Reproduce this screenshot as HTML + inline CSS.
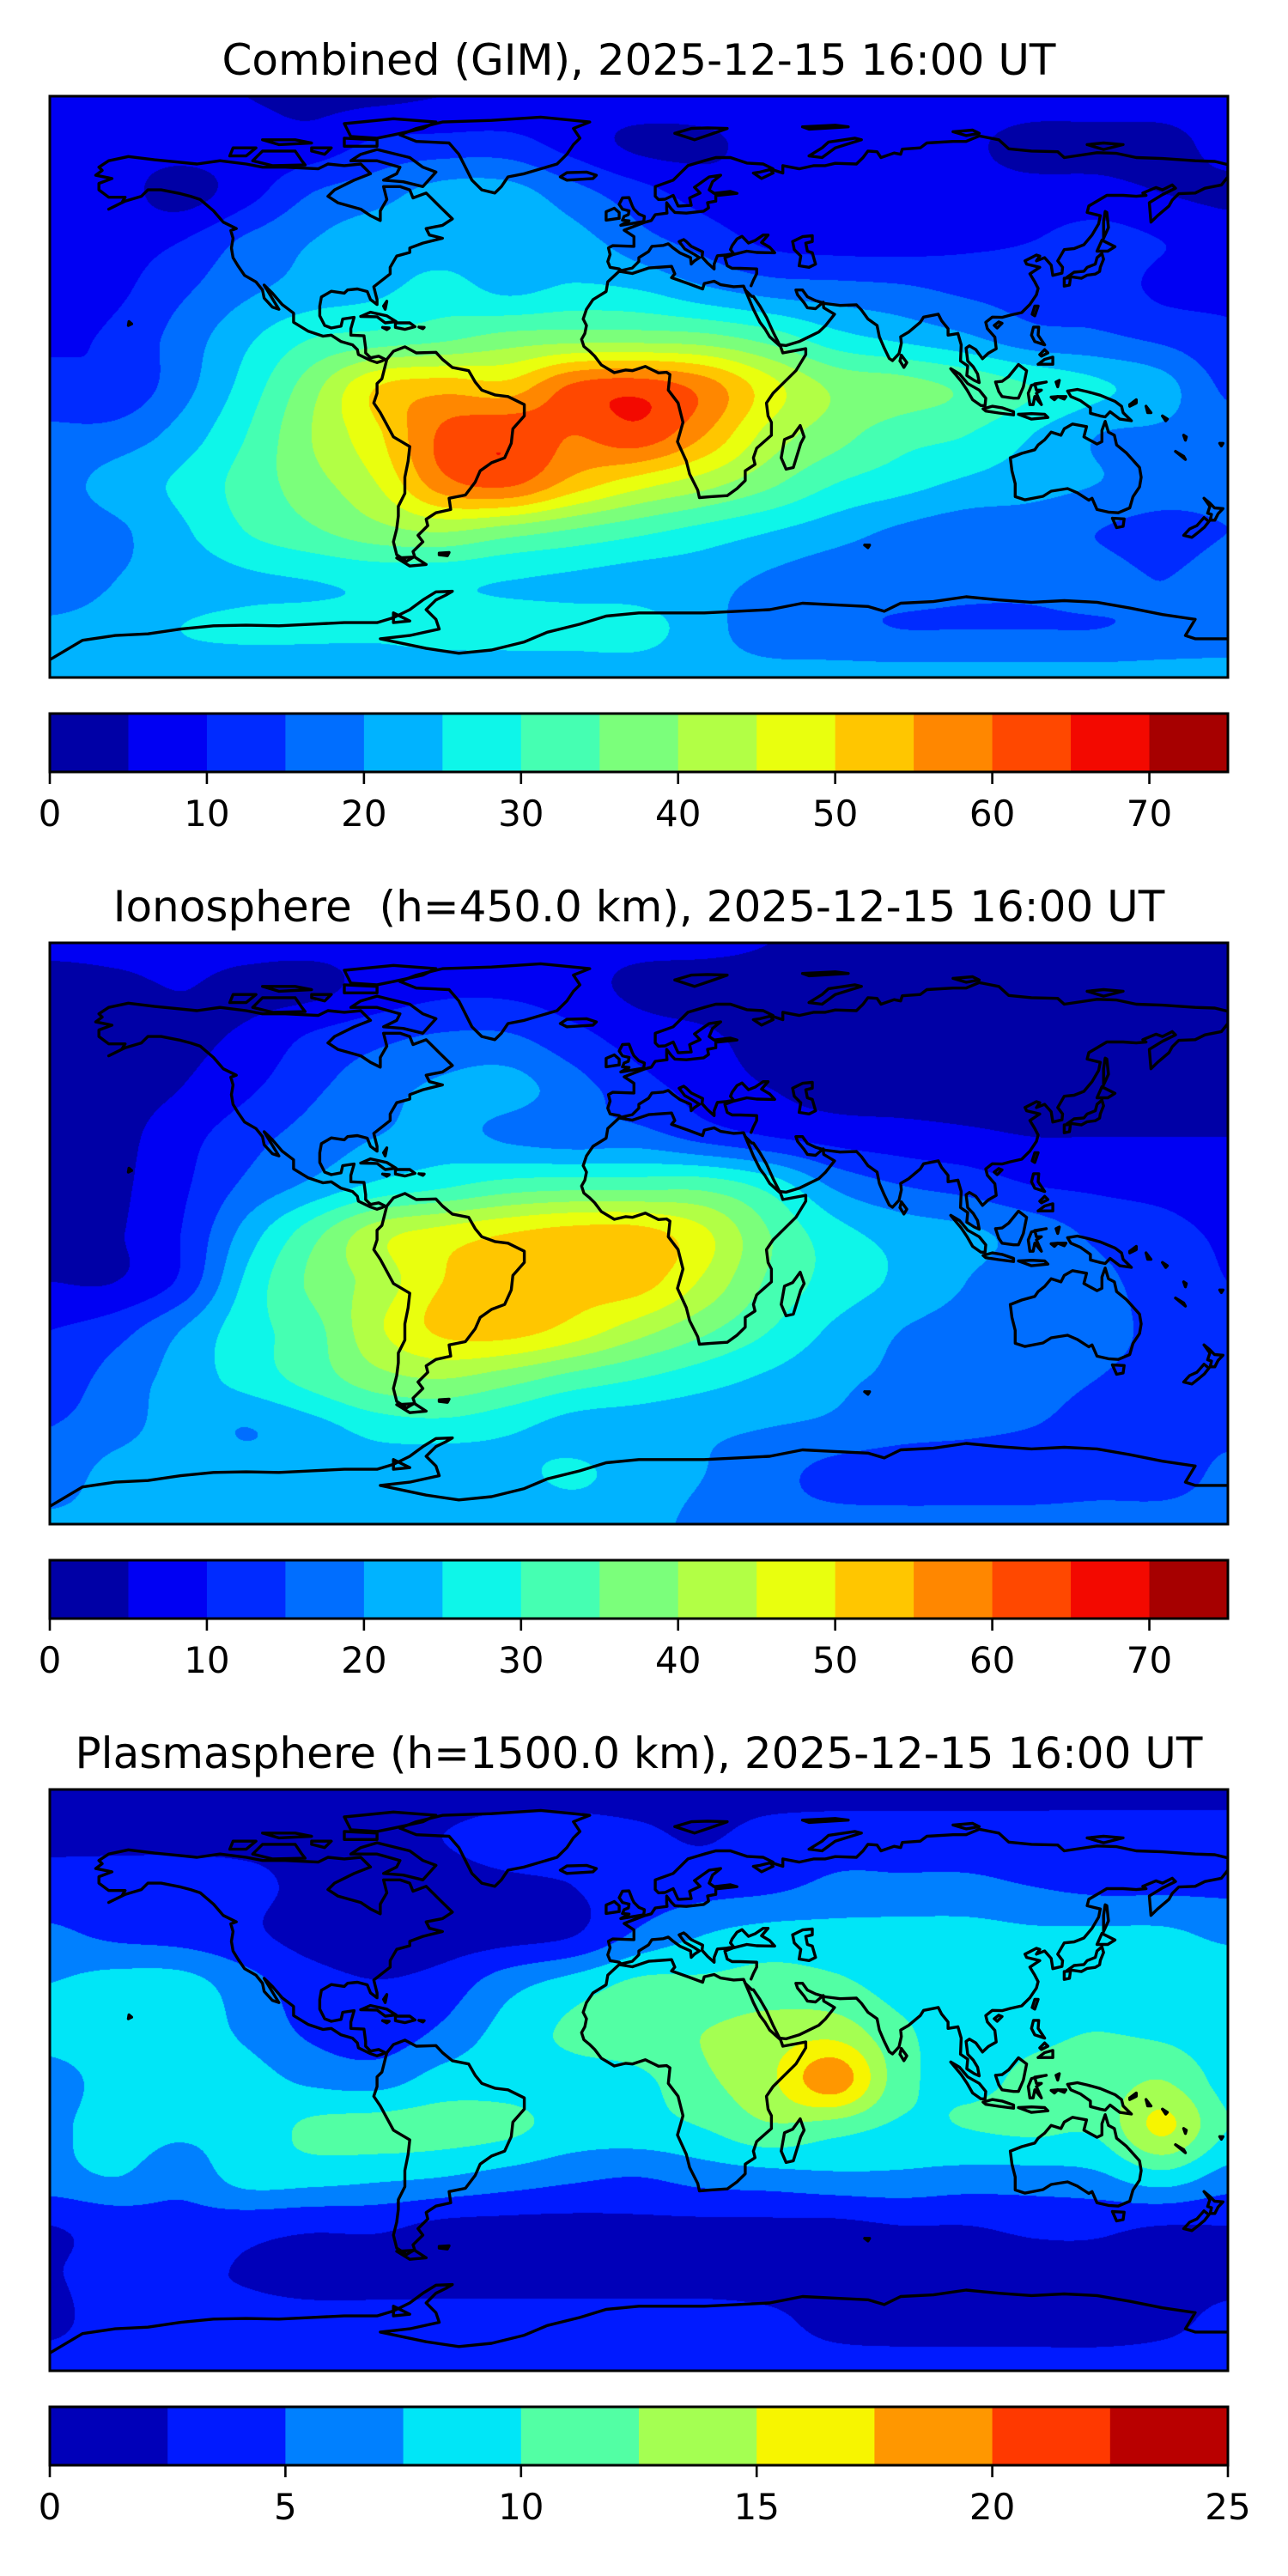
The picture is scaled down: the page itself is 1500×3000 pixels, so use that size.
<!DOCTYPE html>
<html><head><meta charset="utf-8"><title>GIM maps</title>
<style>
html,body{margin:0;padding:0;background:#fff;}
#page{position:relative;width:1500px;height:3000px;overflow:hidden;background:#fff;font-family:"DejaVu Sans","Liberation Sans",sans-serif;}
canvas{position:absolute;left:58px;}
#ov{position:absolute;left:0;top:0;}
</style></head>
<body>
<div id="page">
<canvas id="c0" width="1372" height="677" style="top:112px"></canvas>
<canvas id="c1" width="1372" height="677" style="top:1098px"></canvas>
<canvas id="c2" width="1372" height="677" style="top:2084px"></canvas>
<svg id="ov" width="1500" height="3000" xmlns="http://www.w3.org/2000/svg"></svg>
</div>
<script>
// grid: lon -180..180 step 20 (19 cols), lat 90..-90 step 15 (13 rows)
const combinedGrid = [
[8,8,6,5,4,4,5,6,7,8,8,8,8,8,8,8,8,8,8],
[7,7,7,7,7,11,12,12,8,4,4,7,7,7,6,3,3,3,7],
[7,7,3,8,15,18,22,22,17,12,8,7,7,7,7,7,7,5,4],
[8,8,10,16,20,23,23,23,22,17,13,9,8,8,9,10,12,10,8],
[8,9,14,19,22,24,27,24,26,25,21,18,17,16,14,13,13,9,9],
[9,11,17,24,30,32,34,37,38,38,37,33,27,24,21,17,16,14,11],
[12,11,18,27,38,50,53,52,61,63,58,47,39,37,34,30,26,22,14],
[16,17,22,30,40,49,61,64,60,63,55,43,37,32,30,25,20,19,17],
[18,22,26,32,38,45,58,61,53,47,42,36,30,27,24,22,20,18,17],
[17,19,24,30,34,38,40,37,34,31,28,25,22,19,17,17,15,13,15],
[17,20,22,24,25,26,26,25,24,23,22,19,17,17,16,16,17,15,18],
[21,22,25,26,26,26,27,27,27,27,22,17,16,15,15,15,15,16,17],
[22,22,22,22,22,22,22,22,22,22,22,22,22,22,22,22,22,22,22]
];
const ionoGrid = [
[6,6,6,6,6,6,6,6,6,6,6,5,4,4,3,3,3,3,3],
[3,4,5,4,4,7,9,9,7,4,3,3,3,3,3,3,3,3,3],
[2.5,3,4,6,11,14,16,16,12,8,6,3,2,3,3,3,3,3,3],
[2.5,3,5,9,14,18,21,22,17,12,8,5,3,3,3,3,3,3,3],
[2.5,3.5,8,13,17,20,22,19,17,17,13,10,8,7,6,5,5,5,5],
[3,4,9,16,21,26,29,32,33,33,33,28,19,15,13,10,9,8,6],
[3.5,4.5,10,22,33,43,47,50,52,52,46,35,27,23,21,18,14,12,9],
[5,5,11,26,36,42,50,53,52,52,44,34,28,24,20,17,16,13,10],
[10,13,20,28,33,44,51,52,48,42,36,30,24,20,18,17,16,14,11],
[12,17,22,27,32,38,40,37,33,30,27,24,21,19,17,16,15,14,13],
[15,18,22,20,23,27,28,26,23,22,21,20,19,17,16,15,14,14,14],
[17,22,23,22,22,22,21,23,26,22,20,17,13,12,12,12,13,13,16],
[21,21,21,21,21,21,21,21,21,21,19,17,17,17,17,17,17,17,17]
];
const plasmaGrid = [
[1.5,1.5,1.5,1.5,1.5,1.5,1.5,1.5,1.5,1.5,1.5,1.5,1.5,1.5,1.5,1.5,1.5,1.5,1.5],
[2,2,2,2,2,2,2.5,3.5,3.5,3,2.3,3.5,4,4,4,4,4,4,4],
[3.5,3.5,3.5,3,2,1.5,1.5,2,2.5,3.5,4,4.5,5.5,5.5,5.5,5,4.5,4.5,4.5],
[5.5,4.5,4,3,1.6,1.2,1.3,1.6,2.4,5.5,7.5,8.5,8.5,8.5,8.5,8,8,8,7],
[7.5,8.5,8.5,6,3.5,2.6,3.5,6.5,8.5,10.5,10.5,11,10.5,9,9,9,9,9,9],
[8.5,9,9,7,4.5,3.5,5.5,8.5,10.5,11.5,12.5,13.5,14,10.5,9,9.5,10,9.5,8.5],
[6.5,8.5,9,8.5,7,6.5,8.5,9,9,9.5,12,14.5,19,11,9.5,10.5,11,12.5,9],
[7,8.5,8,8.5,10.5,11,11,10.5,9,9,10,12,11,9.5,10,10.5,10.5,15.5,10],
[6.5,7.5,6,8.5,8.5,8,7.5,6.5,5.5,5,6,6.5,7,7,6.5,6.5,7,9,6.5],
[2.5,3.5,4,3.5,3,3,2,1.8,1.8,2,2,2,2,2.5,2.5,3,3,2.5,2.5],
[2.3,3.5,3,2.3,1.5,1.5,1.5,1.5,1.5,1.5,1.5,1.5,1.5,1.5,1.5,1.8,2,2,2],
[2,3.5,3.5,3.5,3.5,3.5,3.5,3.5,3.5,3.5,3.5,3,1.8,1.5,1.5,1.5,1.5,2,3],
[3.5,3.5,3.5,3.5,3.5,3.5,3.5,3.5,3.5,3.5,3.5,3.5,3.5,3.5,3.5,3.5,3.5,3.5,3.5]
];
const tecColors = ["#0000a6","#0000f3","#002bff","#006eff","#00b3ff","#0ef6e9","#45ffb2","#7bff7b","#b2ff45","#e9ff0e","#ffc600","#ff8700","#ff4800","#f30900","#a60000"];
const plasmaColors = ["#0000b9","#001aff","#0080ff","#00e6f7","#52ffa4","#a4ff52","#f7f500","#ff9700","#ff3900","#b90000"];
const tecTicks = [0,10,20,30,40,50,60,70];
const plasmaTicks = [0,5,10,15,20,25];
const titles = ["Combined (GIM), 2025-12-15 16:00 UT","Ionosphere\u00a0\u00a0(h=450.0 km), 2025-12-15 16:00 UT","Plasmasphere (h=1500.0 km), 2025-12-15 16:00 UT"];

const coasts = [
[[-165,68],[-162,70],[-156,71.3],[-148,70.3],[-141,69.6],[-135,69],[-128,70],[-120,69],[-115,68],[-108,68],[-98,67.5],[-95,69],[-90,68.5],[-85,69],[-82,66],[-87,64],[-93,61],[-95,59],[-92,57],[-85,55],[-82,53],[-79,51.5],[-79,54.5],[-77,58],[-78,62],[-73,62],[-70,61],[-69,58.5],[-65,60],[-61,56],[-57,52],[-60,50],[-65,49],[-64,47],[-60,46],[-66,44.5],[-70,43],[-70,41.6],[-74,40.5],[-76,37],[-76,35],[-81,31],[-80,27],[-80,25.5],[-82,27],[-83,29.5],[-86,30.3],[-89,30],[-90,29],[-94,29.6],[-97,27.8],[-97.5,25],[-97.5,22],[-96,19],[-94,18.2],[-91,18.8],[-90.5,21],[-87,21.5],[-88,18],[-88,16],[-84,15.8],[-83.5,12],[-83.5,10.5],[-82,9],[-79.5,9.5],[-77.5,8.5],[-78.5,8],[-80,7.5],[-82,8.2],[-85.7,10],[-86,11.5],[-87.5,13],[-91,14],[-94,16],[-96.5,15.7],[-101,17.2],[-105.5,20],[-105.5,22.8],[-109,25.5],[-112,29],[-114.5,31.5],[-113,29],[-110,24],[-112,24.7],[-114.5,27.5],[-115,30],[-117,32.5],[-120.5,34.5],[-122.5,37.5],[-124,40],[-124.5,43],[-124,46],[-124.7,48.4],[-123,49],[-127,51],[-130,54.5],[-134,58],[-137,59],[-140,59.8],[-146,61],[-150,61],[-152,59],[-157,57.5],[-162,55],[-158,57],[-157,58.7],[-162,58.7],[-165,61],[-165,63],[-161,64.5],[-166,65.5],[-164,67],[-165,68]],
[[-73,78],[-68,76],[-58,75.5],[-55,72],[-53,68],[-51,64],[-48,61],[-44,60],[-42,62],[-40,65],[-35,66],[-25,69],[-22,72],[-20,75],[-18,77],[-20,80],[-15,82],[-30,83.5],[-45,82.5],[-60,82],[-68,80],[-73,78]],
[[-62,66.5],[-66,62],[-72,63.5],[-78,64],[-74,66],[-73,68],[-80,70],[-88,70],[-85,72],[-80,73.5],[-70,71],[-66,68],[-62,66.5]],
[[-118,70],[-112,68.5],[-102,68.7],[-103,70],[-105,73],[-115,73],[-118,70]],
[[-125,71.5],[-120,71.5],[-117,74],[-124,74],[-125,71.5]],
[[-80,77],[-75,78],[-66,80],[-62,82],[-75,83],[-90,81.5],[-88,77.5],[-80,77]],
[[-80,74.5],[-90,74.5],[-90,77],[-80,76.5],[-80,74.5]],
[[-100,73],[-96,72],[-94,74],[-100,74],[-100,73]],
[[-110,75],[-100,75.5],[-105,76.5],[-115,76.5],[-110,75]],
[[-22,64],[-14,64.5],[-13,65.5],[-16,66.5],[-22,66.3],[-24,65],[-22,64]],
[[-77,8.5],[-75,11],[-71.5,12.4],[-68,10.5],[-62,10.7],[-60,8.5],[-57,6],[-52,5],[-50,1.5],[-48,-1],[-44,-2.5],[-40,-3],[-35,-5.5],[-35,-9],[-38.5,-13],[-39,-17.5],[-41,-22],[-45,-23.5],[-48.5,-26],[-50,-29.5],[-53,-33.5],[-58,-34.5],[-57.5,-38],[-62,-39],[-65,-41],[-64.5,-43],[-67.5,-46],[-66,-48],[-69,-51],[-68.5,-52.5],[-71,-54],[-74,-52],[-75,-48],[-74,-44],[-73.5,-40],[-73.5,-37],[-71.5,-33],[-71.5,-28],[-70.5,-23],[-70,-18.5],[-75,-15.5],[-79,-8],[-81,-5],[-80,-2],[-80,1],[-78.5,2.5],[-77.5,6.5],[-77,8.5]],
[[-68.5,-52.7],[-65,-55],[-70,-55.5],[-74,-53],[-68.5,-52.7]],
[[-61,-51.5],[-58,-51.3],[-58.5,-52.3],[-61,-52],[-61,-51.5]],
[[-85,21.8],[-82,23.1],[-77,22],[-74.2,20.2],[-77.5,19.8],[-80,21.7],[-85,21.8]],
[[-74.4,19.8],[-70,19.8],[-68.4,18.6],[-71.5,17.8],[-74.4,18.4],[-74.4,19.8]],
[[-78.3,18.4],[-76.3,18.2],[-77,17.7],[-78.3,18.4]],
[[-67.2,18.5],[-65.6,18.4],[-66,18],[-67.2,18.5]],
[[-78,25],[-77,26.5],[-77.5,24],[-78,25]],
[[-17,21],[-16,24],[-14,27],[-10,29.5],[-9.5,32.5],[-6,35.8],[-2,35.1],[3,36.8],[10,37.3],[11,35],[10,33.8],[15,32],[19.5,30.3],[20,32],[23,32.7],[25,31.6],[29,31],[32,31.2],[32.5,30],[35,24],[37,20],[38.5,18],[40,15.5],[43.3,12.5],[44,10.5],[51,11.8],[51,10],[48,5],[44,1],[41,-2],[39,-5],[39.5,-9],[40.5,-11],[40.5,-15],[36,-19],[35,-22],[35.5,-24],[32.5,-26],[32.5,-29],[30,-31.5],[27,-33.7],[22,-34],[18.5,-34.3],[18,-32],[15.5,-27],[14.5,-23],[11.8,-17],[13.5,-11],[12,-5],[9,-1],[9.5,3.8],[8.5,4.5],[6,4.3],[2,6.3],[-2,5],[-4,5.2],[-7.5,4.4],[-11.5,6.8],[-13.5,9.5],[-15,11],[-16.8,12.5],[-17.5,14.7],[-16.5,16.5],[-16,19],[-17,21]],
[[49.3,-12],[50.5,-15.5],[49.5,-17.5],[47.2,-25],[45,-25.5],[43.5,-22],[44.5,-16.3],[47,-15.2],[49.3,-12]],
[[32.5,30],[34.5,28],[35,28],[37,25],[39,21.5],[41,17],[43,13],[45,12.8],[49,14],[52,15.5],[55,17],[57,18.9],[59.8,22.5],[56.5,24.5],[56.3,26.2],[54,24.2],[51.5,24.5],[50.5,26],[48.5,28.5],[48,30],[50,30],[51.5,27.9],[54,26.7],[57,25.8],[61.5,25.2],[66.5,25.4],[68,23.8],[70,21],[72.8,19],[73.5,15.5],[75,12],[76.5,8.8],[77.5,8.1],[79.5,10.3],[80.2,13.5],[80,15.5],[82.5,17],[86,20],[87,21.6],[89,22],[91.5,22.5],[92.5,20.5],[94.5,18],[94.5,16],[97.5,16.5],[98.5,13],[98.3,8],[100.5,6.5],[100.2,3.5],[102.5,2],[104,1.3],[103.5,4],[102.2,6.2],[100.5,8],[100,12],[101,12.7],[103,11.5],[105,8.7],[106.8,10.4],[109.2,11.8],[108.8,15.4],[106.5,18],[106,20],[108,21.6],[111,21.5],[113.5,22.2],[117,23],[119.5,25.5],[121.5,28.5],[122,30.5],[121,32.5],[119.5,35],[122.5,37],[118.5,38],[118,39],[121.5,40.8],[122.5,40.5],[121.5,39],[124,40],[126,37.7],[126.5,34.5],[129.3,35.2],[129.5,37],[128,39],[130,42.5],[133,42.8],[136,44],[138.5,47],[140.5,50.5],[141,53],[137,54],[137.5,56],[140.5,57.8],[143,59.3],[148,59.3],[152,59],[155,59.3],[154,60],[158,61.7],[160,61],[163,62.5],[164,61.5],[160,59.5],[156,57],[156.5,51],[158.5,53],[162,56],[163,57.8],[165,59.8],[170,60],[173,61.5],[178,62.5],[180,65],[180,68.8],[176,69.8],[170,70],[160,70.7],[152,71],[146,72.3],[140,72.5],[130,71],[128,72.8],[120,73],[113,73.7],[110,76.5],[104,77.7],[100,76],[96,76],[88,75.5],[86,74],[80.5,73.6],[80,72],[78,72.4],[74,71],[72.8,72.8],[70,73],[68.5,71],[66.5,69],[60,69.2],[57,68.5],[53.5,68.5],[49,67.5],[44,68.5],[44,66.2],[40,67.5],[41,66.2],[37.5,64.5],[35,66.2],[37,66.5],[41,67.5],[38,69],[33,69.3],[28,71],[23.5,71],[20,70],[15,68.5],[12.5,66],[10.5,64],[5,62],[5,59],[6,58],[8,58.1],[10.5,59.3],[12,56],[12.6,56],[16,56.2],[15.5,58.5],[18.7,60],[17,61.8],[21.5,65],[25,65.5],[22.5,63.5],[21.5,61],[23,59.9],[28,60.5],[30,59.9],[23.5,59.2],[23.5,57.5],[21,57],[21.3,55.4],[19.8,54.4],[14.5,53.8],[11,54],[10,55],[8.5,57],[8.5,55],[8.6,53.8],[5,53.3],[3.8,51.5],[1.6,50.9],[-1.5,49.7],[-4.5,48.5],[-1.5,46.5],[-1.5,43.5],[-8,43.7],[-9.3,43],[-8.8,41],[-9.5,38.8],[-8.8,37],[-6,36.5],[-5.4,36],[-2,36.8],[0,38.8],[0,40],[3,41.9],[4,43.5],[7.5,43.8],[9,44.3],[10.5,43],[12.5,41.5],[15.8,40],[16,38],[17,39],[18.5,40],[17,41],[14,42.7],[12.3,45],[13.7,45.6],[14.5,45],[16,43.5],[19.5,41.8],[19.3,40.2],[21,38.3],[23,36.5],[23,38],[24,40.6],[26.5,40.8],[27.5,41],[29,41.2],[28,42.5],[28.5,43.7],[30,45.8],[31.5,46.6],[33.5,44.5],[35.5,45.3],[38,47],[39.5,47],[37.5,44.7],[40,43.2],[41.5,41.5],[36,41.6],[33,42],[29,41],[26.3,40],[27,37.5],[28.5,36.7],[31,36.7],[36,36.5],[36,35],[35,33],[34.3,31.3]],
[[47,45],[50,46.5],[53,46.8],[53,45],[51,44.5],[51.5,42],[53,41.5],[54,38],[52,37],[49,37.5],[49.5,40.5],[47.5,42.5],[47,45]],
[[-5.5,50],[1.5,51.2],[1.7,52.8],[0,53.5],[-1.5,55],[-2,56],[-3,58.6],[-5,58.5],[-6,56.5],[-5,55],[-3,54.5],[-3.2,53.3],[-4.5,52.8],[-5,51.6],[-3,51.4],[-5.5,50]],
[[-6,52.2],[-6,54],[-7.5,55.3],[-10,54.2],[-10,51.6],[-6,52.2]],
[[130.9,34],[133,35.5],[136,35.8],[137,37],[139.5,38],[140,40],[141.5,41.3],[142,39.5],[141,37],[140.8,35.7],[139.5,34.9],[137,34.6],[135.2,33.6],[132.5,34],[130.9,34]],
[[140,42],[141.5,45.4],[145.5,43.4],[143.3,42],[140,42]],
[[130,31.2],[131.6,31.5],[131.9,33.8],[130,33.6],[130,31.2]],
[[142,46],[143.5,49.3],[143,54],[142.5,54.3],[142,51],[142,46]],
[[120.2,22.5],[121,25],[122,25],[121,22],[120.2,22.5]],
[[108.6,19],[110,20.1],[111,19.7],[109.5,18.2],[108.6,19]],
[[79.8,8],[80.2,9.8],[81.9,7.5],[81,6],[79.8,8]],
[[120,16],[120.6,18.5],[122.2,18.5],[122,16],[124,13],[121,14],[120,16]],
[[122,7],[126.5,7],[126.5,9.2],[124,8.5],[122,7]],
[[122.5,10],[124,11.5],[125,10.5],[123,9.5],[122.5,10]],
[[109,1.5],[111,1.7],[113,3.2],[116,6.9],[118.5,5],[118,2.5],[117.5,0],[116,-3.5],[114.5,-3.5],[111,-3],[110,-1.5],[109,1.5]],
[[95.3,5.6],[98,4],[100.5,1],[104,-1],[106,-3.5],[105.8,-5.8],[104.5,-5.8],[102,-4],[100.3,-1],[98.5,1.7],[95.3,5.6]],
[[105.2,-6.8],[108,-6],[111,-6.5],[114.5,-7.7],[114.5,-8.7],[110,-8.1],[106,-7.5],[105.2,-6.8]],
[[116,-8.5],[120,-8.3],[124,-8.5],[125,-9.5],[120,-10],[116,-8.5]],
[[119.5,-5.5],[119,-2],[120,0.5],[124.5,1.5],[121,0.9],[121.5,-1],[123,-1],[121.5,-2],[123,-5.5],[121,-3],[120.5,-5.5],[119.5,-5.5]],
[[127.5,1.5],[128.5,2],[128,0],[127.5,1.5]],
[[126,-3.2],[128,-3],[127,-4],[126,-3.2]],
[[128,-3],[130.5,-3],[130,-3.8],[128,-3]],
[[131,-1.3],[134,-0.8],[137,-1.5],[141,-2.6],[145.5,-4.5],[147.5,-6],[148,-8],[150.5,-10.5],[147,-10],[144,-7.7],[142.5,-9.3],[141,-9],[138,-8.2],[138,-6.5],[135,-4.3],[132,-3],[131,-1.3]],
[[150,-5.5],[152,-4],[152,-5],[150,-6],[150,-5.5]],
[[155,-6],[156.5,-8],[155.5,-8],[155,-6]],
[[160,-9],[161.5,-10],[161,-10.5],[160,-9]],
[[166.5,-15],[167.3,-15.5],[167,-16.5],[166.5,-15]],
[[164,-20],[166.5,-21.5],[167,-22.5],[164,-20]],
[[177.5,-17.5],[178.5,-17.5],[178,-18.3],[177.5,-17.5]],
[[113.5,-22],[114,-26],[115,-30],[115,-34],[118,-35],[123.5,-33.9],[126,-32.3],[131,-31.5],[134,-32.8],[137.5,-35.1],[138.5,-34.5],[140,-38],[143.5,-38.8],[146.5,-39],[150,-37.5],[151,-34],[153,-31],[153.5,-28],[153,-25],[150.8,-22.5],[149,-20.5],[146,-18],[145.3,-15],[143.5,-14],[142.5,-10.7],[141.5,-13.5],[141.5,-17],[140,-17.7],[136,-15.5],[136.8,-12.3],[132.5,-11.5],[130,-13],[129,-15],[126,-14],[124,-16.4],[122,-18],[121,-19.5],[117,-20.6],[114,-21.8],[113.5,-22]],
[[144.7,-40.7],[148.3,-40.9],[148,-43.2],[146,-43.6],[144.7,-40.7]],
[[172.7,-34.5],[174.5,-36],[175.9,-37.5],[178.5,-37.7],[177,-39.3],[176,-41.3],[174.6,-41.3],[175,-39.5],[173.8,-39.1],[174.5,-37],[172.7,-34.5]],
[[172.7,-40.5],[174.2,-41.7],[172.8,-43.5],[171,-45],[169,-46.6],[166.5,-46],[168.3,-44],[170.5,-43],[172.7,-40.5]],
[[11,78.5],[16,80],[21,80.2],[27,80],[22,78.2],[17,76.5],[11,78.5]],
[[52,71.5],[56,74],[58,75.8],[66,77],[68,76.5],[60,74],[56,71],[52,71.5]],
[[96,79],[102,79.5],[104,78.5],[100,77.8],[96,79]],
[[137,75],[142,75.5],[148,75],[142,73.5],[137,75]],
[[50,80.5],[60,81],[64,80.5],[52,79.8],[50,80.5]],
[[-156,19],[-155,19.5],[-155.8,20.2],[-156,19]],
[[69,-49],[70.5,-49],[70,-49.8],[69,-49]],
[[-180,-84.5],[-170,-78.5],[-160,-77],[-150,-76.5],[-140,-75],[-130,-74],[-120,-73.8],[-110,-74],[-100,-73.5],[-90,-73],[-80,-73],[-75,-71.5],[-70,-69],[-66,-66],[-62,-63.5],[-57,-63.3],[-59,-64.5],[-62,-66],[-65,-69],[-62,-72],[-61,-75],[-70,-77],[-79,-78],[-65,-81],[-55,-82.5],[-45,-81.5],[-35,-79],[-28,-76],[-18,-73.5],[-10,-71],[0,-70],[10,-70],[20,-70],[30,-69.5],[40,-69],[50,-67],[60,-67.5],[70,-68],[75,-69.5],[80,-67],[90,-66.5],[100,-65],[110,-66],[120,-66.7],[130,-66.2],[140,-66.7],[150,-68.5],[160,-70.5],[170,-72],[167,-77],[170,-78],[180,-78]],
[[-75,-70],[-70,-72.5],[-75,-73],[-75,-70]]
];

const MAPX = 58, MAPW = 1372, MAPH = 677;
const panels = [
 {grid: combinedGrid, colors: tecColors, step: 5, vmax: 75, ticks: tecTicks, top: 112, id: 'combined'},
 {grid: ionoGrid, colors: tecColors, step: 5, vmax: 75, ticks: tecTicks, top: 1098, id: 'ionosphere'},
 {grid: plasmaGrid, colors: plasmaColors, step: 2.5, vmax: 25, ticks: plasmaTicks, top: 2084, id: 'plasmasphere'}
];

function hex(c){return [parseInt(c.slice(1,3),16),parseInt(c.slice(3,5),16),parseInt(c.slice(5,7),16)];}
function cr(p0,p1,p2,p3,t){return p1+0.5*t*(p2-p0+t*(2*p0-5*p1+4*p2-p3+t*(3*(p1-p2)+p3-p0)));}

function drawField(canvas, p){
  const ctx = canvas.getContext('2d');
  const img = ctx.createImageData(MAPW, MAPH);
  const G = p.grid, R = G.length, C = G[0].length;
  const rgb = p.colors.map(hex);
  const gv = (r,c)=>G[Math.max(0,Math.min(R-1,r))][Math.max(0,Math.min(C-1,c))];
  for(let py=0; py<MAPH; py++){
    const v = (py+0.5)/MAPH*(R-1);
    const r = Math.min(R-2, Math.floor(v)), tv = v - r;
    for(let px=0; px<MAPW; px++){
      const u = (px+0.5)/MAPW*(C-1);
      const c = Math.min(C-2, Math.floor(u)), tu = u - c;
      const rows = [];
      for(let k=-1;k<=2;k++){
        rows.push(cr(gv(r+k,c-1),gv(r+k,c),gv(r+k,c+1),gv(r+k,c+2),tu));
      }
      const val = cr(rows[0],rows[1],rows[2],rows[3],tv);
      let idx = Math.floor(val/p.step);
      idx = Math.max(0, Math.min(rgb.length-1, idx));
      const o = (py*MAPW+px)*4, col = rgb[idx];
      img.data[o]=col[0]; img.data[o+1]=col[1]; img.data[o+2]=col[2]; img.data[o+3]=255;
    }
  }
  ctx.putImageData(img,0,0);
}

const NS = 'http://www.w3.org/2000/svg';
const svg = document.getElementById('ov');
function mk(tag, attrs, parent){
  const e = document.createElementNS(NS, tag);
  for(const k in attrs) e.setAttribute(k, attrs[k]);
  (parent||svg).appendChild(e);
  return e;
}

panels.forEach((p, i) => {
  drawField(document.getElementById('c'+i), p);
  const top = p.top;
  const xOf = lon => MAPX + (lon+180)/360*MAPW;
  const yOf = lat => top + (90-lat)/180*MAPH;
  const g = mk('g', {});
  
  
  const t = mk('text', {x: MAPX+MAPW/2, y: top-25, 'text-anchor':'middle', 'font-size':'50', fill:'#000', 'font-family':'DejaVu Sans, Liberation Sans, sans-serif'}, g);
  t.textContent = titles[i];
  
  
  const cg = mk('g', {fill:'none', stroke:'#000', 'stroke-width':'3.4', 'stroke-linejoin':'round', 'stroke-linecap':'round'}, g);
  
  
  const cp = mk('clipPath', {id:'clip'+i}, g);
  mk('rect', {x:MAPX, y:top, width:MAPW, height:MAPH}, cp);
  cg.setAttribute('clip-path', 'url(#clip'+i+')');
  coasts.forEach(line => {
    const d = line.map((pt,j)=>(j?'L':'M')+xOf(pt[0]).toFixed(1)+' '+yOf(pt[1]).toFixed(1)).join('');
    const path = mk('path', {d: d}, cg);
    
    
  });
  const fr = mk('rect', {x:MAPX, y:top, width:MAPW, height:MAPH, fill:'none', stroke:'#000', 'stroke-width':'3'}, g);
  
  
  const cbTop = top + 719, cbH = 68;
  const cx = v => MAPX + v/p.vmax*MAPW;
  const cb = mk('g', {}, g);
  
  
  p.colors.forEach((c, k) => {
    const r = mk('rect', {x: cx(k*p.step), y: cbTop, width: cx((k+1)*p.step)-cx(k*p.step)+0.5, height: cbH, fill: c}, cb);
    
    
  });
  mk('rect', {x:MAPX, y:cbTop, width:MAPW, height:cbH, fill:'none', stroke:'#000', 'stroke-width':'3'}, cb);
  p.ticks.forEach(v => {
    const tk = mk('line', {x1: cx(v), x2: cx(v), y1: cbTop+cbH, y2: cbTop+cbH+14, stroke:'#000', 'stroke-width':'2.6'}, cb);
    
    
    const tl = mk('text', {x: cx(v), y: cbTop+cbH+63, 'text-anchor':'middle', 'font-size':'42', fill:'#000', 'font-family':'DejaVu Sans, Liberation Sans, sans-serif'}, cb);
    tl.textContent = String(v);
    
    
  });
});
</script>
</body></html>
